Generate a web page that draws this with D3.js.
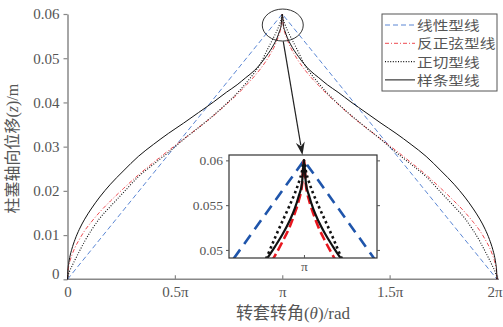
<!DOCTYPE html>
<html>
<head>
<meta charset="utf-8">
<script src="https://cdn.jsdelivr.net/npm/d3@7"></script>
<style>
  body { margin: 0; background: #fff; }
  svg text { font-family: "Liberation Serif", "Times New Roman", serif; fill: #555; }
  .cjk { font-family: "Noto Sans CJK SC", sans-serif; }
</style>
</head>
<body>
<div id="chart"></div>
<script>
// rotation angle, in units of pi
const theta = [
  0, 0.002, 0.006, 0.012, 0.02, 0.035, 0.055, 0.08, 0.11, 0.15, 0.2, 0.26, 0.33, 0.4, 0.47,
  0.54, 0.61, 0.68, 0.74, 0.79, 0.83, 0.87, 0.9, 0.925, 0.945, 0.962, 0.976, 0.987, 0.995, 1,
  1.005, 1.013, 1.024, 1.038, 1.055, 1.075, 1.1, 1.13, 1.17, 1.21, 1.26, 1.32, 1.39, 1.46,
  1.53, 1.6, 1.67, 1.74, 1.8, 1.85, 1.89, 1.92, 1.945, 1.965, 1.98, 1.988, 1.994, 1.998, 2
];
// plunger displacement z (m)
const arcsinZ = [
  0, 0.0017, 0.003, 0.0042, 0.0054, 0.0072, 0.009, 0.011, 0.0129, 0.0152, 0.0177, 0.0205, 0.0236, 0.0264, 0.0291,
  0.0317, 0.0343, 0.037, 0.0396, 0.0418, 0.0438, 0.0459, 0.0477, 0.0494, 0.051, 0.0525, 0.0541, 0.0556, 0.0573, 0.06,
  0.0573, 0.0556, 0.0541, 0.0525, 0.051, 0.0494, 0.0477, 0.0459, 0.0438, 0.0418, 0.0396, 0.037, 0.0343, 0.0317,
  0.0291, 0.0264, 0.0236, 0.0205, 0.0177, 0.0152, 0.0129, 0.011, 0.009, 0.0072, 0.0054, 0.0042, 0.003, 0.0017, 0
];
const tanZ = [
  0, 0.0007, 0.0013, 0.0021, 0.0029, 0.0044, 0.0063, 0.0086, 0.011, 0.0138, 0.0165, 0.0196, 0.0232, 0.026, 0.0287,
  0.0316, 0.0343, 0.0371, 0.0397, 0.0421, 0.0443, 0.0467, 0.0489, 0.0514, 0.0533, 0.0549, 0.0563, 0.0576, 0.0588, 0.06,
  0.0588, 0.0576, 0.0563, 0.0549, 0.0533, 0.0514, 0.0489, 0.0467, 0.0443, 0.0421, 0.0397, 0.0371, 0.0343, 0.0316,
  0.0287, 0.026, 0.0232, 0.0196, 0.0165, 0.0138, 0.011, 0.0086, 0.0063, 0.0044, 0.0029, 0.0021, 0.0013, 0.0007, 0
];
const splineZ = [
  0, 0.0021, 0.0037, 0.0053, 0.0068, 0.009, 0.0113, 0.0136, 0.0159, 0.0186, 0.0215, 0.0245, 0.0278, 0.0305, 0.033,
  0.0353, 0.0377, 0.0401, 0.0423, 0.044, 0.0456, 0.0472, 0.0488, 0.0504, 0.0518, 0.0532, 0.0546, 0.0561, 0.0575, 0.06,
  0.0575, 0.0561, 0.0546, 0.0532, 0.0518, 0.0504, 0.0488, 0.0472, 0.0456, 0.044, 0.0423, 0.0401, 0.0377, 0.0353,
  0.033, 0.0305, 0.0278, 0.0245, 0.0215, 0.0186, 0.0159, 0.0136, 0.0113, 0.009, 0.0068, 0.0053, 0.0037, 0.0021, 0
];
// linear profile: straight rise and fall
const linTheta = [0, 1, 2];
const linZ = [0, 0.06, 0];

const seriesNames = ['线性型线', '反正弦型线', '正切型线', '样条型线'];
const xTicks = [0, 0.5, 1, 1.5, 2];
const xTickLabels = ['0', '0.5π', 'π', '1.5π', '2π'];
const yTicks = [0, 0.01, 0.02, 0.03, 0.04, 0.05, 0.06];
const insetYTicks = [0.05, 0.055, 0.06];
const insetXTicks = [1];

const width = 503;
const height = 327;

const svg = d3.select('#chart').append('svg')
  .attr('width', width)
  .attr('height', height);

// main scales
const x = d3.scaleLinear().domain([0, 2]).range([67.5, 497]);
const y = d3.scaleLinear().domain([0, 0.06]).range([279.3, 14]);

// styles for main (thin) and inset (thick) lines
const styles = [
  { color: '#5a86d4', dash: '5,3', w: 1, iColor: '#1f55ab', iDash: '11,7', iw: 2.6, curve: d3.curveLinear },
  { color: '#ee4a50', dash: '4,2,1,2', w: 1, iColor: '#e8161e', iDash: '9,4', iw: 2.6, curve: d3.curveMonotoneX },
  { color: '#111', dash: '1,1.6', w: 1.1, iColor: '#111', iDash: '2.5,3', iw: 2.6, curve: d3.curveMonotoneX },
  { color: '#111', dash: null, w: 1, iColor: '#111', iDash: null, iw: 2.2, curve: d3.curveMonotoneX }
];

const series = [
  linTheta.map((t, i) => [t, linZ[i]]),
  theta.map((t, i) => [t, arcsinZ[i]]),
  theta.map((t, i) => [t, tanZ[i]]),
  theta.map((t, i) => [t, splineZ[i]])
];

// axes
const yAxis = svg.append('g')
  .attr('transform', `translate(${x(0)},0)`)
  .call(d3.axisLeft(y).tickValues(yTicks).tickSizeInner(4).tickSizeOuter(0).tickPadding(4)
    .tickFormat(d => d === 0 ? '0' : d.toFixed(2)));

const xAxis = svg.append('g')
  .attr('transform', `translate(0,${y(0)})`)
  .call(d3.axisBottom(x).tickValues(xTicks).tickSizeInner(-4).tickSizeOuter(0).tickPadding(7)
    .tickFormat((d, i) => xTickLabels[i]));

[yAxis, xAxis].forEach(ax => {
  ax.select('.domain').attr('stroke', '#888').attr('stroke-width', 1.5);
  ax.selectAll('.tick line').attr('stroke', '#888').attr('stroke-width', 1.2);
  ax.selectAll('.tick text').attr('font-size', 15).attr('fill', '#555')
    .attr('font-family', '"Liberation Serif", serif');
});
// the zero label sits a bit higher
yAxis.selectAll('.tick text').filter(d => d === 0).attr('dy', '-0.05em').attr('x', -8);
// keep the last label inside the window
xAxis.selectAll('.tick text').filter(d => d === 2).attr('text-anchor', 'end').attr('x', 5);
xAxis.select('.domain').attr('d', `M${x(0)},0H${x(2) + 2}`);

// main curves
series.forEach((s, i) => {
  const line = d3.line()
    .x(d => x(d[0]))
    .y(d => y(d[1]))
    .curve(styles[i].curve);
  svg.append('path')
    .datum(s)
    .attr('fill', 'none')
    .attr('stroke', styles[i].color)
    .attr('stroke-width', styles[i].w)
    .attr('stroke-dasharray', styles[i].dash)
    .attr('d', line);
});

// axis titles
svg.append('text')
  .attr('transform', `translate(18,${(y(0) + y(0.06)) / 2 + 2}) rotate(-90)`)
  .attr('text-anchor', 'middle')
  .attr('font-size', 16)
  .call(t => {
    t.append('tspan').attr('class', 'cjk').text('柱塞轴向位移');
    t.append('tspan').text('(');
    t.append('tspan').attr('font-style', 'italic').text('z');
    t.append('tspan').text(')/m');
  });

svg.append('text')
  .attr('x', 293)
  .attr('y', 319)
  .attr('text-anchor', 'middle')
  .attr('font-size', 17)
  .call(t => {
    t.append('tspan').attr('class', 'cjk').text('转套转角');
    t.append('tspan').text('(');
    t.append('tspan').attr('font-style', 'italic').text('θ');
    t.append('tspan').text(')/rad');
  });

// legend
const legend = svg.append('g').attr('transform', 'translate(382,14)');
legend.append('rect')
  .attr('width', 115).attr('height', 77)
  .attr('fill', '#fff').attr('stroke', '#555').attr('stroke-width', 1);
seriesNames.forEach((name, i) => {
  const ly = 11 + i * 18.3;
  legend.append('line')
    .attr('x1', 3).attr('x2', 33).attr('y1', ly).attr('y2', ly)
    .attr('stroke', styles[i].color)
    .attr('stroke-width', styles[i].w)
    .attr('stroke-dasharray', styles[i].dash);
  legend.append('text')
    .attr('class', 'cjk')
    .attr('transform', `translate(35,${ly + 5}) scale(1.12,0.9)`)
    .attr('font-size', 14)
    .text(name);
});

// inset
const ix = d3.scaleLinear().domain([0.805, 1.19]).range([229, 377]);
const iy = d3.scaleLinear().domain([0.0491, 0.0606]).range([258, 155]);

const inset = svg.append('g');
inset.append('rect')
  .attr('x', ix.range()[0]).attr('y', iy.range()[1])
  .attr('width', ix.range()[1] - ix.range()[0])
  .attr('height', iy.range()[0] - iy.range()[1])
  .attr('fill', '#fff');

svg.append('clipPath').attr('id', 'insetClip')
  .append('rect')
  .attr('x', ix.range()[0]).attr('y', iy.range()[1])
  .attr('width', ix.range()[1] - ix.range()[0])
  .attr('height', iy.range()[0] - iy.range()[1]);

const insetLines = inset.append('g').attr('clip-path', 'url(#insetClip)');
series.forEach((s, i) => {
  const iline = d3.line()
    .x(d => ix(d[0]))
    .y(d => iy(d[1]))
    .curve(styles[i].curve);
  insetLines.append('path')
    .datum(s)
    .attr('fill', 'none')
    .attr('stroke', styles[i].iColor)
    .attr('stroke-width', styles[i].iw)
    .attr('stroke-dasharray', styles[i].iDash)
    .attr('d', iline);
});

inset.append('rect')
  .attr('x', ix.range()[0]).attr('y', iy.range()[1])
  .attr('width', ix.range()[1] - ix.range()[0])
  .attr('height', iy.range()[0] - iy.range()[1])
  .attr('fill', 'none').attr('stroke', '#333').attr('stroke-width', 1.2);

const iyAxis = inset.append('g')
  .attr('transform', `translate(${ix.range()[0]},0)`)
  .call(d3.axisLeft(iy).tickValues(insetYTicks).tickSizeInner(3).tickSizeOuter(0).tickPadding(3)
    .tickFormat(d => String(+d.toFixed(3))));
const iyAxisR = inset.append('g')
  .attr('transform', `translate(${ix.range()[1]},0)`)
  .call(d3.axisRight(iy).tickValues(insetYTicks).tickSizeInner(3).tickSizeOuter(0).tickFormat(''));
const ixAxis = inset.append('g')
  .attr('transform', `translate(0,${iy.range()[0]})`)
  .call(d3.axisBottom(ix).tickValues(insetXTicks).tickSizeInner(-3).tickSizeOuter(0).tickPadding(3)
    .tickFormat(() => 'π'));
[iyAxis, iyAxisR, ixAxis].forEach(ax => {
  ax.select('.domain').remove();
  ax.selectAll('.tick line').attr('stroke', '#555');
  ax.selectAll('.tick text').attr('font-size', 13.5).attr('fill', '#555')
    .attr('font-family', '"Liberation Serif", serif');
});

// zoom marker: ellipse round the peak and arrow to the inset
svg.append('ellipse')
  .attr('cx', x(1) + 0.5).attr('cy', y(0.0575))
  .attr('rx', 20.5).attr('ry', 16)
  .attr('fill', 'none').attr('stroke', '#333').attr('stroke-width', 1);

const a0 = [x(1) + 1, y(0.0538)];
const a1 = [ix(1) - 1.5, iy.range()[1]];
const len = Math.hypot(a1[0] - a0[0], a1[1] - a0[1]);
const ux = (a1[0] - a0[0]) / len, uy = (a1[1] - a0[1]) / len;
const hb = [a1[0] - ux * 13, a1[1] - uy * 13];
svg.append('line')
  .attr('x1', a0[0]).attr('y1', a0[1])
  .attr('x2', hb[0] + ux * 3).attr('y2', hb[1] + uy * 3)
  .attr('stroke', '#222').attr('stroke-width', 1.2);
svg.append('path')
  .attr('d', `M${a1[0]},${a1[1]}L${hb[0] + uy * 4.5},${hb[1] - ux * 4.5}L${hb[0] + ux * 4},${hb[1] + uy * 4}L${hb[0] - uy * 4.5},${hb[1] + ux * 4.5}Z`)
  .attr('fill', '#222');
</script>
</body>
</html>
